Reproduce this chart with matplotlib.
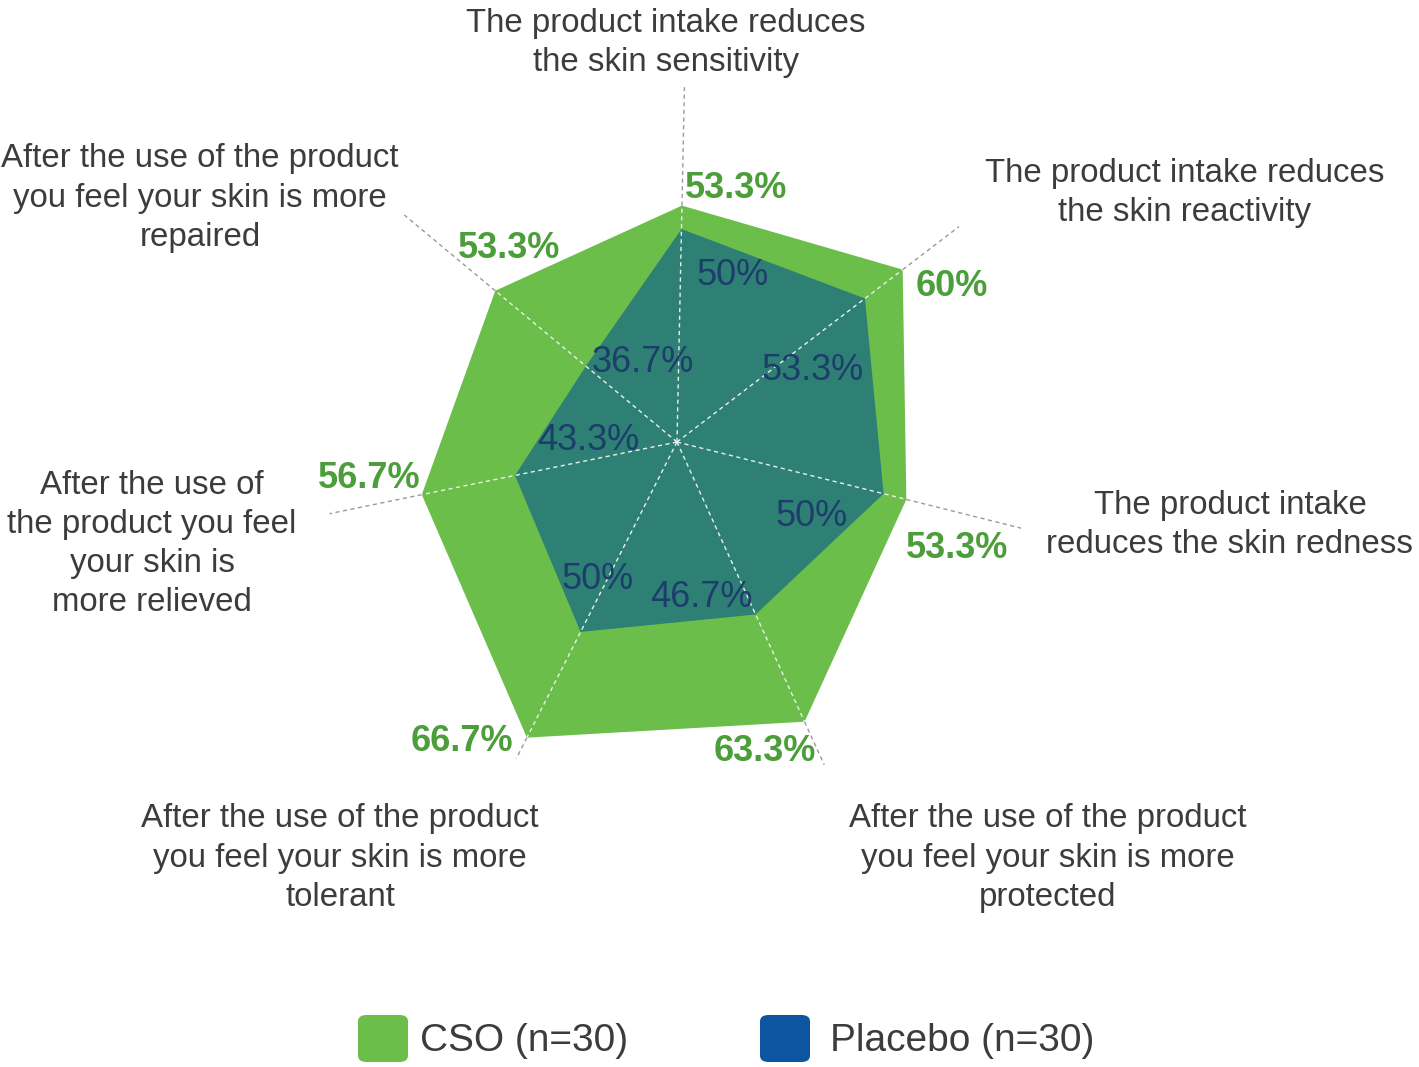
import numpy as np
import matplotlib
matplotlib.use("Agg")
import matplotlib.pyplot as plt
from matplotlib.patches import FancyBboxPatch

categories = [
    "The product intake reduces\nthe skin sensitivity",
    "The product intake reduces\nthe skin reactivity",
    "The product intake\nreduces the skin redness",
    "After the use of the product\nyou feel your skin is more\nprotected",
    "After the use of the product\nyou feel your skin is more\ntolerant",
    "After the use of\nthe product you feel\nyour skin is\nmore relieved",
    "After the use of the product\nyou feel your skin is more\nrepaired",
]
cso_values = [53.3, 60.0, 53.3, 63.3, 66.7, 56.7, 53.3]
placebo_values = [50.0, 53.3, 50.0, 46.7, 50.0, 43.3, 36.7]
cso_labels = ["53.3%", "60%", "53.3%", "63.3%", "66.7%", "56.7%", "53.3%"]
placebo_labels = ["50%", "53.3%", "50%", "46.7%", "50%", "43.3%", "36.7%"]
legend_labels = ["CSO (n=30)", "Placebo (n=30)"]

W, H = 1419, 1067
GREEN = "#6cbe4b"
TEAL = "#2e8075"
BLUE = "#0d55a0"
GREEN_TXT = "#4b9e3a"
NAVY_TXT = "#1d3d6b"
GRAY_TXT = "#3c3c3c"
FONT = "Liberation Sans"

fig = plt.figure(figsize=(W / 100, H / 100), dpi=100)
cx, cy, R = 677, 442, 355
ax = fig.add_axes([(cx - R) / W, (H - cy - R) / H, 2 * R / W, 2 * R / H], projection="polar")
ax.set_theta_zero_location("N")
ax.set_theta_direction(-1)
ax.set_ylim(20, 70)
ax.axis("off")

n = len(categories)
offset = np.deg2rad(1.2)
theta = offset + np.arange(n) * 2 * np.pi / n
tc = np.append(theta, theta[0])

ax.fill(tc, np.append(cso_values, cso_values[0]), color=GREEN, zorder=2, lw=0)
ax.fill(tc, np.append(placebo_values, placebo_values[0]), color=TEAL, zorder=3, lw=0)

for t, v in zip(theta, cso_values):
    ax.plot([t, t], [v, 70], ls=(0, (3, 2.5)), color="#9a9a9a", lw=1.0, zorder=1)
    ax.plot([t, t], [20, v], ls=(0, (3, 2.5)), color="#e8f0e8", lw=1.0, zorder=4)

cso_off = [(54, 17), (49, -17), (51, -49), (-40, -30), (-65, -4), (-53, 16), (14, 42)]
pl_off = [(51, -46), (-52, -72), (-72, -23), (-54, 17), (17, 52), (73, 35), (57, 4)]
for t, v, lab, o in zip(theta, cso_values, cso_labels, cso_off):
    ax.annotate(lab, (t, v), xytext=o, textcoords="offset pixels", ha="center", va="center",
                fontsize=26, fontweight="bold", color=GREEN_TXT, family=FONT, zorder=6,
                annotation_clip=False)
for t, v, lab, o in zip(theta, placebo_values, placebo_labels, pl_off):
    ax.annotate(lab, (t, v), xytext=o, textcoords="offset pixels", ha="center", va="center",
                fontsize=26, color=NAVY_TXT, family=FONT, zorder=6, annotation_clip=False)

cat_pos = [(666, 43), (1185, 193), (1230, 525), (1048, 858), (340, 858), (152, 544), (200, 198)]
for lab, (x, y) in zip(categories, cat_pos):
    fig.text(x / W, 1 - y / H, lab, ha="center", va="center", fontsize=23.8, color=GRAY_TXT,
             family=FONT, linespacing=1.34)

# legend
for (sx, tx, col, lab) in [(358, 420, GREEN, legend_labels[0]), (760, 830, BLUE, legend_labels[1])]:
    p = FancyBboxPatch((sx / W, 1 - 1062 / H), 50 / W, 47 / H,
                       boxstyle="round,pad=0,rounding_size=0.006", transform=fig.transFigure,
                       facecolor=col, edgecolor="none")
    fig.patches.append(p)
    fig.text(tx / W, 1 - 1041 / H, lab, ha="left", va="center", fontsize=28, color=GRAY_TXT,
             family=FONT)

fig.savefig("out.png", dpi=100, facecolor="white")
